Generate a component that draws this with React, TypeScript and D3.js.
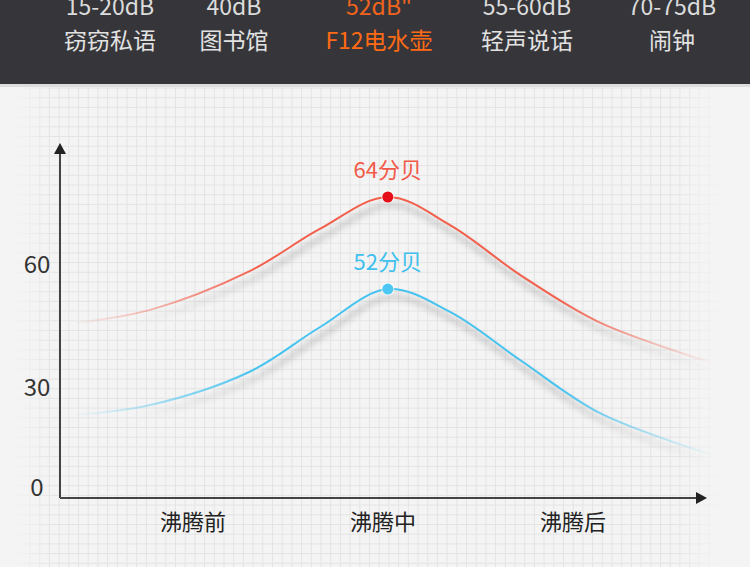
import React from "react";
import * as d3 from "d3";

const headerLevels = ["15-20dB", "40dB", "52dB\"", "55-60dB", "70-75dB"];
const headerNames = ["窃窃私语", "图书馆", "F12电水壶", "轻声说话", "闹钟"];
const headerHighlight = 2;

const categories = ["沸腾前", "沸腾中", "沸腾后"];
const yTicks = [0, 30, 60];

// sample positions along the time axis (category index units)
const sampleT = [-0.63, -0.23, 0.29, 0.66, 1.02, 1.35, 1.72, 2.14, 2.74];
const redValues = [47.6, 49.3, 54.3, 59.8, 64, 60.3, 53.8, 47.6, 42.3];
const blueValues = [35.6, 36.9, 41.2, 47.0, 52, 49.0, 42.7, 35.8, 30.3];
const peakIndex = 4;
const peakLabels = ["64分贝", "52分贝"];

const W = 750;
const H = 567;
const FONT = "'Noto Sans CJK SC', 'Noto Sans', sans-serif";

export default function App() {
  const x = d3.scaleLinear().domain([0, 2]).range([194, 574]);
  const yLine = d3.scaleLinear().domain([30, 64]).range([458, 197]);
  const yTick = d3.scaleLinear().domain([0, 30, 60]).range([485, 385, 262]);
  const headerXs = [110, 234, 379, 527, 672];

  const line = d3
    .line<number>()
    .x((_, i) => x(sampleT[i]))
    .y((d) => yLine(d))
    .curve(d3.curveCatmullRom.alpha(0.5));

  const gridXs = d3.range(30, 720, 9.7);
  const gridYs = d3.range(88, H, 9.7);

  const axisX0 = 60;
  const axisY0 = 498;

  const series = [
    { vals: redValues, color: "#f2604c", dot: "#e50f1a", label: peakLabels[0], labelColor: "#f25a48", id: "r" },
    { vals: blueValues, color: "#47c3ef", dot: "#4cc6f2", label: peakLabels[1], labelColor: "#3fc0ef", id: "b" },
  ];

  return (
    <svg
      width={W}
      height={H}
      style={{ position: "absolute", left: 0, top: 0, fontFamily: FONT }}
    >
      <defs>
        <linearGradient id="gridFade" gradientUnits="userSpaceOnUse" x1={0} x2={W} y1={0} y2={0}>
          <stop offset="0.02" stopColor="#fff" stopOpacity={0} />
          <stop offset="0.07" stopColor="#fff" stopOpacity={1} />
          <stop offset="0.9" stopColor="#fff" stopOpacity={1} />
          <stop offset="0.96" stopColor="#fff" stopOpacity={0} />
        </linearGradient>
        <mask id="gridMask">
          <rect x={0} y={0} width={W} height={H} fill="url(#gridFade)" />
        </mask>
        {series.map((s) => (
          <linearGradient key={s.id} id={"g" + s.id} gradientUnits="userSpaceOnUse" x1={60} x2={720} y1={0} y2={0}>
            <stop offset="0.02" stopColor={s.color} stopOpacity={0} />
            <stop offset="0.3" stopColor={s.color} stopOpacity={1} />
            <stop offset="0.75" stopColor={s.color} stopOpacity={1} />
            <stop offset="0.99" stopColor={s.color} stopOpacity={0} />
          </linearGradient>
        ))}
        <linearGradient id="shadowGrad" gradientUnits="userSpaceOnUse" x1={60} x2={720} y1={0} y2={0}>
          <stop offset="0.1" stopColor="#000" stopOpacity={0} />
          <stop offset="0.35" stopColor="#000" stopOpacity={0.2} />
          <stop offset="0.75" stopColor="#000" stopOpacity={0.2} />
          <stop offset="0.98" stopColor="#000" stopOpacity={0} />
        </linearGradient>
        <filter id="blur" x="-10%" y="-50%" width="120%" height="200%">
          <feGaussianBlur stdDeviation="3" />
        </filter>
      </defs>

      <rect x={0} y={0} width={W} height={H} fill="#f4f4f4" />

      {/* grid */}
      <g mask="url(#gridMask)" stroke="#e4e4e4" strokeWidth={1}>
        {gridXs.map((gx) => (
          <line key={"vx" + gx} x1={gx} x2={gx} y1={88} y2={H} />
        ))}
        {gridYs.map((gy) => (
          <line key={"hy" + gy} x1={0} x2={W} y1={gy} y2={gy} />
        ))}
      </g>

      {/* header */}
      <rect x={0} y={0} width={W} height={84} fill="#36363a" />
      <rect x={0} y={84} width={W} height={3} fill="#dcdcdc" />
      {headerLevels.map((t, i) => (
        <text
          key={"hl" + i}
          x={headerXs[i]}
          y={15}
          textAnchor="middle"
          fontSize={23}
          fill={i === headerHighlight ? "#f0641e" : "#dcdcdc"}
        >
          {t}
        </text>
      ))}
      {headerNames.map((t, i) => (
        <text
          key={"hn" + i}
          x={headerXs[i]}
          y={49}
          textAnchor="middle"
          fontSize={23}
          fill={i === headerHighlight ? "#ff6a14" : "#e2e2e2"}
        >
          {t}
        </text>
      ))}

      {/* shadows */}
      {series.map((s) => (
        <path
          key={"sh" + s.id}
          d={line(s.vals) || ""}
          fill="none"
          stroke="url(#shadowGrad)"
          strokeWidth={4}
          transform="translate(3,8)"
          filter="url(#blur)"
        />
      ))}

      {/* lines */}
      {series.map((s) => (
        <path
          key={"ln" + s.id}
          d={line(s.vals) || ""}
          fill="none"
          stroke={`url(#g${s.id})`}
          strokeWidth={2}
        />
      ))}

      {/* peaks */}
      {series.map((s) => {
        const px = x(sampleT[peakIndex]);
        const py = yLine(s.vals[peakIndex]);
        return (
          <g key={"pk" + s.id}>
            <circle cx={px} cy={py} r={6.5} fill="#fff" opacity={0.7} />
            <circle cx={px} cy={py} r={5.5} fill={s.dot} />
            <text x={px} y={py - 19} textAnchor="middle" fontSize={22} fill={s.labelColor}>
              {s.label}
            </text>
          </g>
        );
      })}

      {/* axes */}
      <line x1={axisX0} x2={axisX0} y1={axisY0} y2={150} stroke="#444" strokeWidth={2} />
      <path d={`M${axisX0},143 L${axisX0 - 6},154 L${axisX0 + 6},154 Z`} fill="#222" />
      <line x1={axisX0} x2={697} y1={axisY0} y2={axisY0} stroke="#444" strokeWidth={2} />
      <path d={`M707,${axisY0} L696,${axisY0 - 6} L696,${axisY0 + 6} Z`} fill="#222" />

      {yTicks.map((t) => (
        <text
          key={"yt" + t}
          x={37}
          y={yTick(t)}
          textAnchor="middle"
          dominantBaseline="central"
          fontSize={24}
          fill="#333"
        >
          {t}
        </text>
      ))}
      {categories.map((c, i) => (
        <text
          key={"c" + i}
          x={x(i) - 1}
          y={530}
          textAnchor="middle"
          fontSize={22}
          fill="#222"
        >
          {c}
        </text>
      ))}
    </svg>
  );
}
